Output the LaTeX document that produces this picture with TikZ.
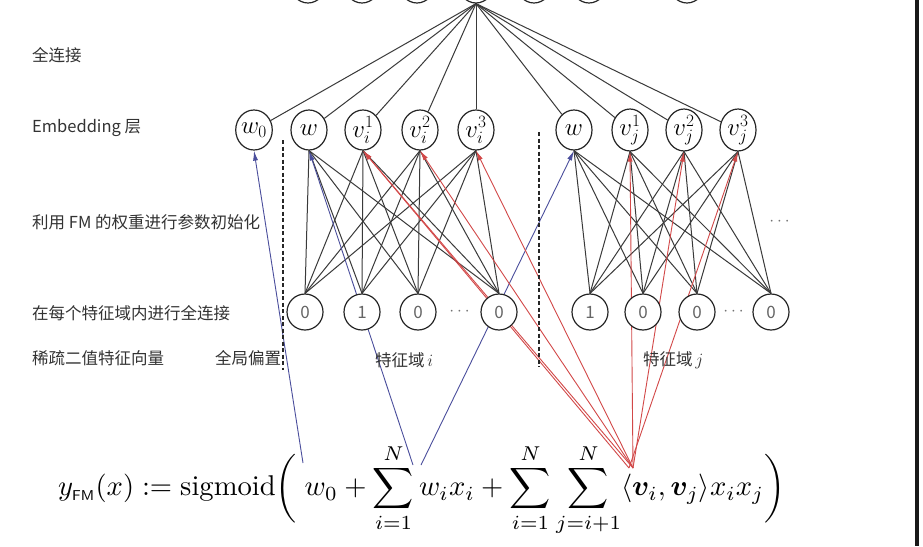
\documentclass[tikz,border=0pt]{standalone}
\usepackage{amsmath,amssymb,bm}
\usepackage{graphicx}
\usepackage{fontspec}
\newfontfamily\cjk{Noto Sans CJK SC}
\usetikzlibrary{arrows.meta,shapes.geometric}
\definecolor{linegray}{HTML}{3A3A3A}
\definecolor{textgray}{HTML}{333333}
\definecolor{bluearr}{HTML}{4A4E9C}
\definecolor{redarr}{HTML}{D24848}
\pgfdeclarelayer{bgzero}
\pgfdeclarelayer{lines}
\pgfsetlayers{bgzero,lines,main}
\begin{document}
\begin{tikzpicture}[x=1pt,y=-1pt,
  enode/.style={ellipse, draw=black!85, fill=white, line width=1.2pt, minimum width=36pt, minimum height=40pt, inner sep=0pt, font=\fontsize{24}{24}\selectfont},
  inode/.style={ellipse, draw=black!85, fill=white, line width=1.2pt, minimum width=36pt, minimum height=36pt, inner sep=0pt, font=\cjk\fontsize{17}{17}\selectfont, text=black!60},
  conn/.style={draw=linegray, line width=1pt},
  barr/.style={draw=bluearr, line width=0.9pt, -{Latex[length=10pt,width=5pt]}},
  rarr/.style={draw=redarr, line width=0.9pt, -{Latex[length=10pt,width=5pt]}},
  lab/.style={anchor=west, inner sep=0pt, font=\cjk\fontsize{16.5}{16.5}\selectfont, text=textgray},
  dashv/.style={draw=black!85, line width=1.2pt, dash pattern=on 4pt off 2.5pt},
  dotsty/.style={inner sep=0pt, text=black!55, font=\fontsize{16}{16}\selectfont}
]
\useasboundingbox (0,0) rectangle (923,546);
\clip (0,0) rectangle (923,546);
\begin{pgfonlayer}{bgzero}
  \fill[white] (0,0) rectangle (923,546);
  \fill[black!90] (914.5,0) rectangle (918.5,546);
\end{pgfonlayer}

% top layer (cut off)
\foreach \n/\x in {1/308,2/362,3/417,4/476,5/534,6/589,7/687}
  \node[enode] (t\n) at (\x,-17) {};

% embedding layer
\node[enode] (w0)  at (254,130) {$w_0$};
\node[enode] (wi)  at (309,130) {$w$};
\node[enode] (vi1) at (363,130) {$v_i^{1}$};
\node[enode] (vi2) at (420,130) {$v_i^{2}$};
\node[enode] (vi3) at (476,130) {$v_i^{3}$};
\node[enode] (wj)  at (574,130) {$w$};
\node[enode] (vj1) at (630,130) {$v_j^{1}$};
\node[enode] (vj2) at (684,130) {$v_j^{2}$};
\node[enode] (vj3) at (738,130) {$v_j^{3}$};

% input layer
\node[inode] (xi1) at (305,312) {0};
\node[inode] (xi2) at (362,312) {1};
\node[inode] (xi3) at (418,312) {0};
\node[inode] (xi4) at (499,312) {0};
\node[inode] (xj1) at (590,312) {1};
\node[inode] (xj2) at (643,312) {0};
\node[inode] (xj3) at (697,312) {0};
\node[inode] (xj4) at (771,312) {0};
\node[dotsty] (di) at (461,312) {$\cdots$};
\node[dotsty] (dj) at (735,312) {$\cdots$};
\node[dotsty] (dr) at (781,222) {$\cdots$};

% left labels
\node[lab] (l1) at (32,55)  {全连接};
\node[lab] (l2) at (32,128) {Embedding 层};
\node[lab] (l3) at (32,222) {利用 FM 的权重进行参数初始化};
\node[lab] (l4) at (32,313) {在每个特征域内进行全连接};
\node[lab] (l5) at (32,358) {稀疏二值特征向量};
\node[lab] (l6) at (215,358) {全局偏置};
\node[lab] (fi) at (375,360) {特征域\,$i$};
\node[lab] (fj) at (643,360) {特征域\,$j$};

% dashed separators
\coordinate (d1a) at (283,140); \coordinate (d1b) at (283,370);
\coordinate (d2a) at (539,132); \coordinate (d2b) at (539,367);
\draw[dashv] (d1a) -- (d1b);
\draw[dashv] (d2a) -- (d2b);

% formula
\node[anchor=west, inner sep=0pt] (formula) at (58,490)
  {\resizebox{727pt}{!}{$\displaystyle y_{\mbox{\tiny\sffamily FM}}(x) := \mathrm{sigmoid}\bigg(\; w_0 + \sum_{i=1}^{N} w_i x_i + \sum_{i=1}^{N}\sum_{j=i+1}^{N} \langle \bm{v}_i, \bm{v}_j\rangle x_i x_j \bigg)$}};

\coordinate (fw0) at (303,463);
\coordinate (fwi) at (413,465);
\coordinate (fwj) at (421,465);
\coordinate (fva) at (629,468);
\coordinate (fvb) at (633,468);

\begin{pgfonlayer}{lines}
  \foreach \e in {w0,wi,vi1,vi2,vi3,wj,vj1,vj2,vj3}
    \draw[conn] (t4.south) -- (\e);
  \foreach \a in {xi1,xi2,xi3,xi4}
    \foreach \b in {wi,vi1,vi2,vi3}
      \draw[conn] (\a.north) -- (\b.south);
  \foreach \a in {xj1,xj2,xj3,xj4}
    \foreach \b in {wj,vj1,vj2,vj3}
      \draw[conn] (\a.north) -- (\b.south);
  \draw[barr] (fw0) -- (w0.south);
  \draw[barr] (fwi) -- (wi.south);
  \draw[barr] (fwj) -- (wj.south);
  \draw[rarr] (fva) -- (vi1.south);
  \draw[rarr] (fvb) -- (vi1.south);
  \draw[rarr] (fvb) -- (vi2.south);
  \draw[rarr] (fvb) -- (vi3.south);
  \draw[rarr] (fvb) -- (vj1.south);
  \draw[rarr] (fvb) -- (vj2.south);
  \draw[rarr] (fva) -- (vj3.south);
\end{pgfonlayer}
\end{tikzpicture}
\end{document}
